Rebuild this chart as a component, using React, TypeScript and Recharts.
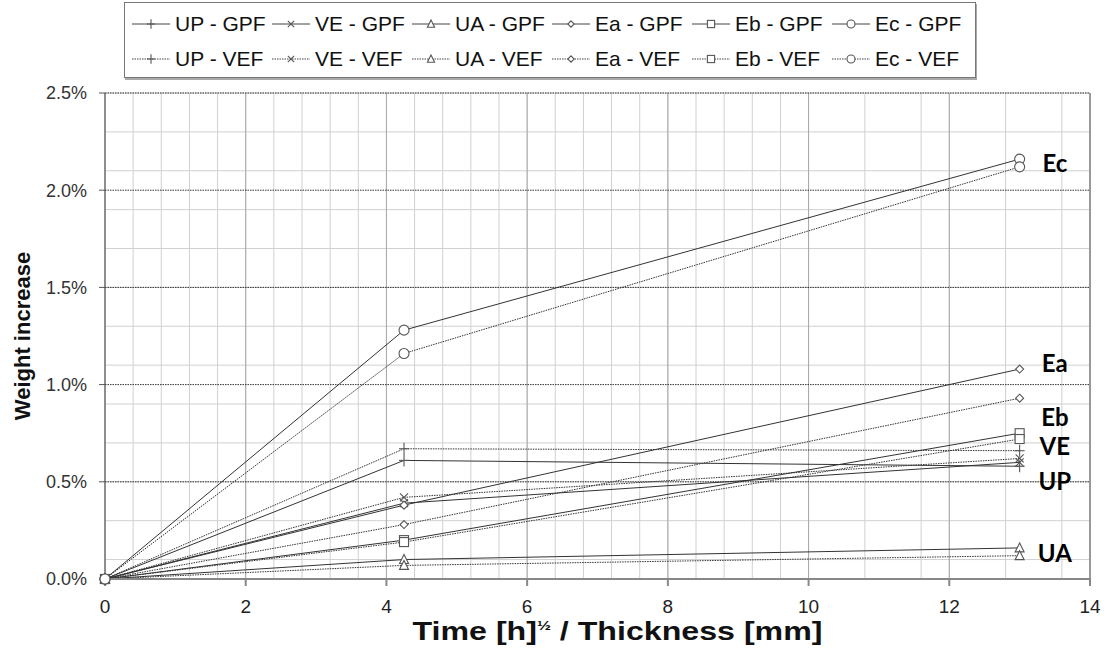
import React from "react";
import {
  LineChart,
  Line,
  XAxis,
  YAxis,
  CartesianGrid,
  ReferenceLine,
  ReferenceDot,
} from "recharts";

// measurement times (sqrt(h) / thickness)
const times = [0, 4.25, 13];

// weight increase in %
const upGpf = [0, 0.61, 0.58];
const veGpf = [0, 0.39, 0.6];
const uaGpf = [0, 0.1, 0.16];
const eaGpf = [0, 0.38, 1.08];
const ebGpf = [0, 0.2, 0.75];
const ecGpf = [0, 1.28, 2.16];

const upVef = [0, 0.67, 0.66];
const veVef = [0, 0.42, 0.62];
const uaVef = [0, 0.07, 0.12];
const eaVef = [0, 0.28, 0.93];
const ebVef = [0, 0.19, 0.72];
const ecVef = [0, 1.16, 2.12];

const xTicks = [0, 2, 4, 6, 8, 10, 12, 14];
const yTicks = [0, 0.5, 1, 1.5, 2, 2.5];

// end-of-line material labels
const endLabels = [
  { name: "Ec", x: 13.5, y: 2.14 },
  { name: "Ea", x: 13.5, y: 1.11 },
  { name: "Eb", x: 13.5, y: 0.83 },
  { name: "VE", x: 13.5, y: 0.68 },
  { name: "UP", x: 13.5, y: 0.5 },
  { name: "UA", x: 13.5, y: 0.13 },
];

const xMinor: number[] = [];
for (let i = 0; i <= 35; i++) xMinor.push(+(i * 0.4).toFixed(2));
const yMinor: number[] = [];
for (let i = 0; i <= 25; i++) yMinor.push(+(i * 0.1).toFixed(2));

type Kind = "plus" | "cross" | "tri" | "diamond" | "square" | "circle";

const toPoints = (vals: number[]) => times.map((t, i) => ({ x: t, y: vals[i] }));

const series: { name: string; vals: number[]; kind: Kind; dotted: boolean }[] = [
  { name: "UP - GPF", vals: upGpf, kind: "plus", dotted: false },
  { name: "VE - GPF", vals: veGpf, kind: "cross", dotted: false },
  { name: "UA - GPF", vals: uaGpf, kind: "tri", dotted: false },
  { name: "Ea - GPF", vals: eaGpf, kind: "diamond", dotted: false },
  { name: "Eb - GPF", vals: ebGpf, kind: "square", dotted: false },
  { name: "Ec - GPF", vals: ecGpf, kind: "circle", dotted: false },
  { name: "UP - VEF", vals: upVef, kind: "plus", dotted: true },
  { name: "VE - VEF", vals: veVef, kind: "cross", dotted: true },
  { name: "UA - VEF", vals: uaVef, kind: "tri", dotted: true },
  { name: "Ea - VEF", vals: eaVef, kind: "diamond", dotted: true },
  { name: "Eb - VEF", vals: ebVef, kind: "square", dotted: true },
  { name: "Ec - VEF", vals: ecVef, kind: "circle", dotted: true },
];

const MK = "#555";
const NARROW = "'Liberation Sans Narrow', 'Liberation Sans', Arial, sans-serif";

const Marker = ({ cx, cy, kind, s = 1 }: { cx: number; cy: number; kind: Kind; s?: number }) => {
  const sw = 1.1;
  switch (kind) {
    case "plus":
      return (
        <g stroke={MK} strokeWidth={sw}>
          <line x1={cx} y1={cy - 6 * s} x2={cx} y2={cy + 6 * s} />
          <line x1={cx - 5 * s} y1={cy} x2={cx + 5 * s} y2={cy} />
        </g>
      );
    case "cross":
      return (
        <g stroke={MK} strokeWidth={sw}>
          <line x1={cx - 4 * s} y1={cy - 4 * s} x2={cx + 4 * s} y2={cy + 4 * s} />
          <line x1={cx - 4 * s} y1={cy + 4 * s} x2={cx + 4 * s} y2={cy - 4 * s} />
        </g>
      );
    case "tri":
      return (
        <polygon
          points={`${cx},${cy - 5 * s} ${cx + 4.5 * s},${cy + 4 * s} ${cx - 4.5 * s},${cy + 4 * s}`}
          fill="#fff"
          stroke={MK}
          strokeWidth={sw}
        />
      );
    case "diamond":
      return (
        <polygon
          points={`${cx},${cy - 4 * s} ${cx + 4 * s},${cy} ${cx},${cy + 4 * s} ${cx - 4 * s},${cy}`}
          fill="#fff"
          stroke={MK}
          strokeWidth={sw}
        />
      );
    case "square":
      return (
        <rect
          x={cx - 4.5 * s}
          y={cy - 4.5 * s}
          width={9 * s}
          height={9 * s}
          fill="#fff"
          stroke={MK}
          strokeWidth={sw}
        />
      );
    default:
      return <circle cx={cx} cy={cy} r={5 * s} fill="#fff" stroke={MK} strokeWidth={sw} />;
  }
};

const LegendItem = ({ name, kind, dotted }: { name: string; kind: Kind; dotted: boolean }) => (
  <div style={{ display: "flex", alignItems: "center", width: 140, whiteSpace: "nowrap" }}>
    <svg width={40} height={14} style={{ flex: "none" }}>
      <line
        x1={1}
        y1={7}
        x2={39}
        y2={7}
        stroke="#444"
        strokeWidth={1}
        strokeDasharray={dotted ? "1.5 1" : undefined}
      />
      <Marker cx={20} cy={7} kind={kind} s={0.8} />
    </svg>
    <span style={{ marginLeft: 4 }}>{name}</span>
  </div>
);

const XTitle = (props: any) => {
  const vb = props.viewBox || {};
  const cx = vb.x + vb.width / 2 + 20;
  return (
    <text
      x={cx}
      y={640}
      textAnchor="middle"
      fontFamily={NARROW}
      fontWeight="bold"
      fontSize={25}
      fill="#111"
      textLength={410}
      lengthAdjust="spacingAndGlyphs"
    >
      Time [h]
      <tspan fontSize={13} dy={-10}>
        ½
      </tspan>
      <tspan dy={10}> / Thickness [mm]</tspan>
    </text>
  );
};

export default function App() {
  return (
    <div
      style={{
        position: "absolute",
        left: 0,
        top: 0,
        width: 1109,
        height: 659,
        background: "#fff",
        fontFamily: "'Liberation Sans', Arial, sans-serif",
      }}
    >
      <div
        style={{
          position: "absolute",
          left: 124,
          top: 2,
          width: 852,
          height: 76,
          border: "1px solid #777",
          boxShadow: "1px 2px 0 #aaa",
          boxSizing: "border-box",
          padding: "3px 0 0 6px",
          fontSize: 21,
          color: "#111",
        }}
      >
        <div style={{ display: "flex", height: 35 }}>
          {series.slice(0, 6).map((s) => (
            <LegendItem key={s.name} name={s.name} kind={s.kind} dotted={s.dotted} />
          ))}
        </div>
        <div style={{ display: "flex", height: 35 }}>
          {series.slice(6).map((s) => (
            <LegendItem key={s.name} name={s.name} kind={s.kind} dotted={s.dotted} />
          ))}
        </div>
      </div>

      <LineChart width={1109} height={659} margin={{ top: 93, right: 19, bottom: 0, left: 0 }}>
        <CartesianGrid
          stroke="#d0d0d0"
          horizontalValues={yMinor}
          verticalValues={xMinor}
        />
        <CartesianGrid stroke="#a8a8a8" horizontal={false} verticalValues={xTicks} />
        <CartesianGrid
          stroke="#333"
          strokeDasharray="1.5 1"
          vertical={false}
          horizontalValues={yTicks.slice(1)}
        />
        <XAxis
          type="number"
          dataKey="x"
          domain={[0, 14]}
          ticks={xTicks}
          allowDuplicatedCategory={false}
          stroke="#888"
          strokeWidth={2}
          tickSize={7}
          tickMargin={14}
          height={80}
          tick={{ fill: "#222", fontSize: 19, fontFamily: NARROW }}
          label={<XTitle />}
        />
        <YAxis
          type="number"
          dataKey="y"
          domain={[0, 2.5]}
          ticks={yTicks}
          width={105}
          stroke="#555"
          tickSize={6}
          tickMargin={12}
          tick={{ fill: "#333", fontSize: 18 }}
          tickFormatter={(v: number) => `${v.toFixed(1)}%`}
          label={{
            value: "Weight increase",
            angle: -90,
            position: "insideLeft",
            offset: 22,
            style: { textAnchor: "middle" },
            fill: "#111",
            fontSize: 22,
            fontWeight: "bold",
          }}
        />
        <ReferenceLine x={14} stroke="#999" strokeWidth={2} />
        {series.map((s) => (
          <Line
            key={s.name}
            data={toPoints(s.vals)}
            dataKey="y"
            type="linear"
            stroke="#333"
            strokeWidth={1}
            strokeDasharray={s.dotted ? "1.5 1" : undefined}
            isAnimationActive={false}
            dot={(p: any) => <Marker key={`${s.name}-${p.index}`} cx={p.cx} cy={p.cy} kind={s.kind} />}
            activeDot={false}
          />
        ))}
        {endLabels.map((l) => (
          <ReferenceDot
            key={l.name}
            x={l.x}
            y={l.y}
            r={0}
            fill="none"
            stroke="none"
            label={{
              value: l.name,
              position: "center",
              fill: "#000",
              fontSize: 24,
              fontWeight: "bold",
              fontFamily: "Lato, 'Open Sans', sans-serif",
            }}
          />
        ))}
      </LineChart>
    </div>
  );
}
